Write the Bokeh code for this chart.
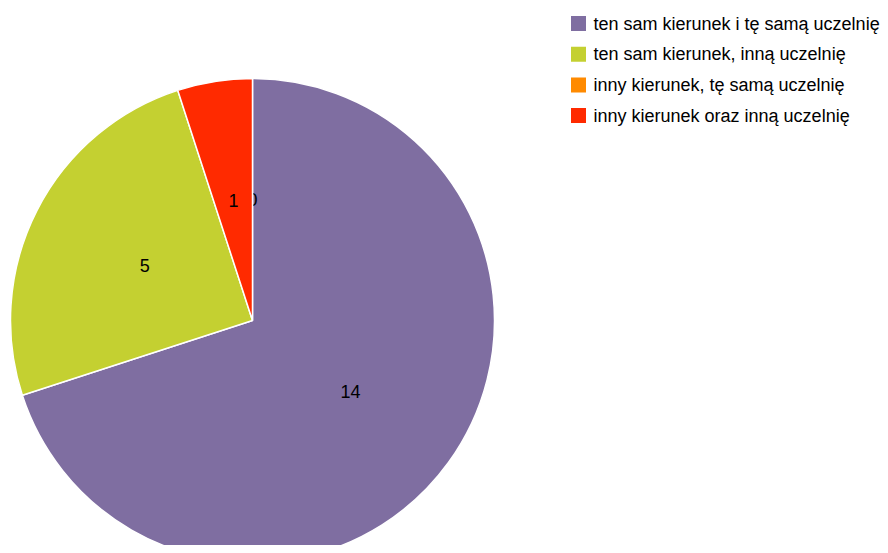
import math
from bokeh.plotting import figure
from bokeh.models import Range1d
from bokeh.core.properties import value
from bokeh.embed import file_html
from bokeh.resources import INLINE

categories = ["ten sam kierunek i tę samą uczelnię",
              "ten sam kierunek, inną uczelnię",
              "inny kierunek, tę samą uczelnię",
              "inny kierunek oraz inną uczelnię"]
counts = [14, 5, 0, 1]
colors = ["#7f6ea1", "#c4d031", "#ff8a00", "#ff2a00"]
pie_order = [0, 1, 3, 2]  # order of slices around the pie, clockwise from top

W, H = 880, 545
p = figure(width=W, height=H, output_backend="svg", toolbar_location=None,
           x_range=Range1d(0, W), y_range=Range1d(0, H), min_border=0)
p.axis.visible = False
p.grid.visible = False
p.outline_line_color = None

cx, cy, r = 252, H - 320, 242
total = sum(counts)
font = value("Liberation Sans")

angles = {}
cum = 0
for i in pie_order:
    a0 = math.pi / 2 - 2 * math.pi * cum / total
    cum += counts[i]
    a1 = math.pi / 2 - 2 * math.pi * cum / total
    angles[i] = (a0, a1)

def label_pos(i):
    a0, a1 = angles[i]
    m = (a0 + a1) / 2
    return cx + 0.5 * r * math.cos(m), cy + 0.5 * r * math.sin(m)

def draw_wedge(i):
    if counts[i] == 0:
        return
    a0, a1 = angles[i]
    p.wedge(x=[cx], y=[cy], radius=r, start_angle=a0, end_angle=a1, direction="clock",
            fill_color=colors[i], line_color="white", line_width=1.5)

def draw_label(i):
    x, y = label_pos(i)
    p.text(x=[x], y=[y], text=[str(counts[i])], text_font=font, text_font_size="18px",
           text_align="center", text_baseline="middle", text_color="#000000")

draw_wedge(0)
draw_wedge(1)
draw_label(2)
draw_wedge(3)
for i in [3, 1, 0]:
    draw_label(i)

# legend
for k, name in enumerate(categories):
    ly = H - 23 - k * 30.7
    p.rect(x=[578], y=[ly], width=15, height=15, fill_color=colors[k], line_color=None)
    p.text(x=[593], y=[ly], text=[name], text_font=font, text_font_size="18px",
           text_align="left", text_baseline="middle", text_color="#000000")

open("out.html", "w").write(file_html(p, INLINE))
